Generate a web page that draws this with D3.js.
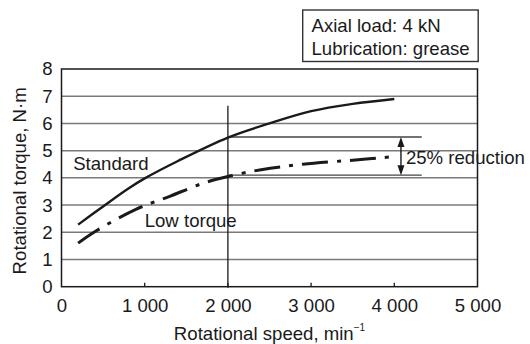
<!DOCTYPE html>
<html><head><meta charset="utf-8">
<script src="https://cdn.jsdelivr.net/npm/d3@7"></script>
<style>
html,body{margin:0;padding:0;background:#fff;}
svg{display:block;font-family:"Liberation Sans",Arial,Helvetica,sans-serif;}
</style></head>
<body><svg id="c" width="530" height="344"></svg>
<script>
// ---- data ----
const xTicks = [0, 1000, 2000, 3000, 4000, 5000];
const xTickLabels = ["0", "1 000", "2 000", "3 000", "4 000", "5 000"];
const yTicks = [0, 1, 2, 3, 4, 5, 6, 7, 8];
const standardSpeed  = [200, 500, 800, 1000, 1400, 2000, 2500, 3000, 3500, 4000];
const standardTorque = [2.28, 2.95, 3.6, 3.98, 4.62, 5.48, 6.0, 6.45, 6.72, 6.9];
const lowSpeed  = [200, 400, 900, 1300, 1700, 2000, 2400, 2900, 3500, 4000];
const lowTorque = [1.6, 2.02, 2.85, 3.32, 3.8, 4.05, 4.3, 4.5, 4.65, 4.78];
const refSpeed = 2000, refTop = 6.65;
const refLevels = [5.5, 4.1], refLevelEnd = 4330, arrowSpeed = 4080;
const legendLines = ["Axial load: 4 kN", "Lubrication: grease"];
const seriesLabels = [
  {text: "Standard", x: 140, y: 4.3},
  {text: "Low torque", x: 1000, y: 2.2},
  {text: "25% reduction", x: 4140, y: 4.5}
];
const xTitle = "Rotational speed, min";
const yTitle = "Rotational torque, N\u00b7m";

// ---- drawing ----
const FS = 18.6;
const svg = d3.select("#c");
const m = {l: 61.5, r: 477.5, t: 69, b: 286.7};
const x = d3.scaleLinear().domain([0, 5000]).range([m.l, m.r]);
const y = d3.scaleLinear().domain([0, 8]).range([m.b, m.t]);
const ink = "#1a1a1a", grid = "#7a7a7a";

// gridlines
svg.append("g").selectAll("line").data(yTicks.filter(d => d > 0 && d < 8)).join("line")
  .attr("x1", m.l).attr("x2", m.r).attr("y1", d => y(d)).attr("y2", d => y(d))
  .attr("stroke", grid).attr("stroke-width", 1.5);

// reference lines
svg.append("line").attr("x1", x(refSpeed)).attr("x2", x(refSpeed))
  .attr("y1", y(refTop)).attr("y2", y(0) + 1).attr("stroke", ink).attr("stroke-width", 1.3);
svg.append("g").selectAll("line").data(refLevels).join("line")
  .attr("x1", x(refSpeed)).attr("x2", x(refLevelEnd)).attr("y1", d => y(d)).attr("y2", d => y(d))
  .attr("stroke", "#444").attr("stroke-width", 1.4);

// frame
svg.append("rect").attr("x", m.l).attr("y", m.t).attr("width", m.r - m.l).attr("height", m.b - m.t)
  .attr("fill", "none").attr("stroke", ink).attr("stroke-width", 1.5);

// x axis
const xAxis = d3.axisBottom(x).tickValues(xTicks).tickSize(0).tickPadding(12)
  .tickFormat((d, i) => xTickLabels[i]);
const gx = svg.append("g").attr("transform", `translate(0,${m.b})`).call(xAxis);
gx.select(".domain").remove();
gx.selectAll("text").attr("font-size", FS).attr("fill", ink).attr("font-family", null);
svg.append("g").selectAll("line").data(xTicks.slice(1, -1)).join("line")
  .attr("x1", d => x(d)).attr("x2", d => x(d)).attr("y1", m.b).attr("y2", m.b - 4)
  .attr("stroke", ink).attr("stroke-width", 1.3);

// y axis
const yAxis = d3.axisLeft(y).tickValues(yTicks).tickSize(0).tickPadding(9);
const gy = svg.append("g").attr("transform", `translate(${m.l},0)`).call(yAxis);
gy.select(".domain").remove();
gy.selectAll("text").attr("font-size", FS).attr("fill", ink).attr("font-family", null);

// curves
const line = d3.line().x(d => x(d[0])).y(d => y(d[1])).curve(d3.curveCatmullRom.alpha(0.5));
svg.append("path").datum(standardSpeed.map((s, i) => [s, standardTorque[i]]))
  .attr("d", line).attr("fill", "none").attr("stroke", ink).attr("stroke-width", 2.4);
svg.append("path").datum(lowSpeed.map((s, i) => [s, lowTorque[i]]))
  .attr("d", line).attr("fill", "none").attr("stroke", ink).attr("stroke-width", 3)
  .attr("stroke-dasharray", "26,9,4,9");

// double arrow
const ay1 = y(refLevels[0]), ay2 = y(refLevels[1]), ax = x(arrowSpeed);
svg.append("line").attr("x1", ax).attr("x2", ax).attr("y1", ay1 + 8).attr("y2", ay2 - 8)
  .attr("stroke", ink).attr("stroke-width", 1.4);
svg.append("path").attr("d", `M${ax},${ay1}L${ax - 3.5},${ay1 + 10}L${ax + 3.5},${ay1 + 10}Z`).attr("fill", ink);
svg.append("path").attr("d", `M${ax},${ay2}L${ax - 3.5},${ay2 - 10}L${ax + 3.5},${ay2 - 10}Z`).attr("fill", ink);

// labels
svg.append("g").selectAll("text").data(seriesLabels).join("text")
  .attr("x", d => x(d.x)).attr("y", d => y(d.y)).attr("font-size", FS).attr("fill", ink)
  .text(d => d.text);

// legend box
svg.append("rect").attr("x", 302.7).attr("y", 10).attr("width", 175.5).attr("height", 51.5)
  .attr("fill", "#fff").attr("stroke", "#333").attr("stroke-width", 1.4);
svg.append("g").selectAll("text").data(legendLines).join("text")
  .attr("x", 311.5).attr("y", (d, i) => 32 + i * 23).attr("font-size", FS).attr("fill", ink)
  .text(d => d);

// axis titles
const xt = svg.append("text").attr("x", (m.l + m.r) / 2).attr("y", 340)
  .attr("text-anchor", "middle").attr("font-size", FS).attr("fill", ink);
xt.append("tspan").text(xTitle);
xt.append("tspan").attr("font-size", 10).attr("dy", -9).text("\u22121");
svg.append("text").attr("transform", `translate(26,${(m.t + m.b) / 2 + 3}) rotate(-90)`)
  .attr("text-anchor", "middle").attr("font-size", FS).attr("fill", ink).text(yTitle);
</script></body></html>
